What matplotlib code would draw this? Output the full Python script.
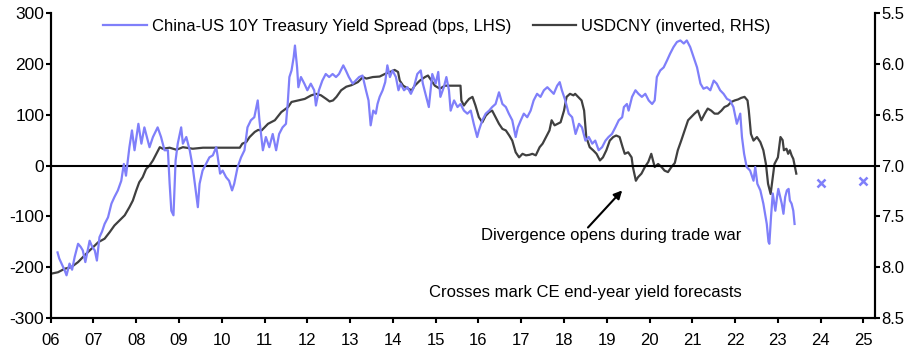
import matplotlib
matplotlib.use("Agg")
import matplotlib.pyplot as plt

plt.rcParams['font.family'] = ['Liberation Sans', 'DejaVu Sans']

# China-US 10Y yield spread (bps), decimal-year dates
spread_t = [2006.16, 2006.20, 2006.33, 2006.37, 2006.44, 2006.50, 2006.56, 2006.64, 2006.70, 2006.75,
            2006.81, 2006.91, 2006.97, 2007.03, 2007.08, 2007.14, 2007.20, 2007.26, 2007.34, 2007.42,
            2007.49, 2007.57, 2007.65, 2007.71, 2007.76, 2007.84, 2007.90, 2007.96, 2008.05, 2008.12,
            2008.19, 2008.27, 2008.31, 2008.39, 2008.50, 2008.58, 2008.66, 2008.74, 2008.78, 2008.82,
            2008.87, 2008.92, 2008.97, 2009.05, 2009.09, 2009.17, 2009.25, 2009.32, 2009.40, 2009.44,
            2009.48, 2009.55, 2009.63, 2009.71, 2009.79, 2009.87, 2009.90, 2009.96, 2010.02, 2010.10,
            2010.17, 2010.24, 2010.29, 2010.37, 2010.45, 2010.53, 2010.60, 2010.68, 2010.76, 2010.84,
            2010.88, 2010.96, 2011.03, 2011.11, 2011.19, 2011.27, 2011.34, 2011.42, 2011.50, 2011.54,
            2011.58, 2011.63, 2011.68, 2011.71, 2011.76, 2011.79, 2011.85, 2011.93, 2012.00, 2012.08,
            2012.16, 2012.20, 2012.27, 2012.35, 2012.43, 2012.51, 2012.59, 2012.67, 2012.74, 2012.84,
            2012.90, 2012.97, 2013.06, 2013.13, 2013.21, 2013.29, 2013.37, 2013.43, 2013.48, 2013.54,
            2013.60, 2013.64, 2013.69, 2013.76, 2013.82, 2013.87, 2013.93, 2013.99, 2014.07, 2014.13,
            2014.18, 2014.26, 2014.34, 2014.42, 2014.49, 2014.57, 2014.65, 2014.70, 2014.76, 2014.84,
            2014.88, 2014.92, 2015.00, 2015.06, 2015.11, 2015.19, 2015.25, 2015.31, 2015.35, 2015.43,
            2015.51, 2015.58, 2015.66, 2015.74, 2015.82, 2015.89, 2015.97, 2016.01, 2016.09, 2016.17,
            2016.25, 2016.32, 2016.40, 2016.48, 2016.56, 2016.64, 2016.71, 2016.79, 2016.87, 2016.92,
            2016.99, 2017.06, 2017.14, 2017.22, 2017.29, 2017.37, 2017.45, 2017.53, 2017.61, 2017.68,
            2017.76, 2017.84, 2017.90, 2017.95, 2018.03, 2018.11, 2018.19, 2018.27, 2018.35, 2018.42,
            2018.50, 2018.58, 2018.66, 2018.73, 2018.81, 2018.89, 2018.97, 2019.04, 2019.12, 2019.20,
            2019.28, 2019.36, 2019.40, 2019.47, 2019.51, 2019.59, 2019.67, 2019.74, 2019.82, 2019.90,
            2019.98, 2020.06, 2020.12, 2020.17, 2020.25, 2020.33, 2020.41, 2020.48, 2020.56, 2020.64,
            2020.72, 2020.80, 2020.87, 2020.95, 2021.03, 2021.11, 2021.19, 2021.26, 2021.34, 2021.42,
            2021.50, 2021.57, 2021.65, 2021.73, 2021.81, 2021.88, 2021.96, 2022.04, 2022.12, 2022.16,
            2022.21, 2022.27, 2022.35, 2022.43, 2022.47, 2022.52, 2022.59, 2022.66, 2022.74, 2022.78,
            2022.80, 2022.84, 2022.88, 2022.94, 2022.98, 2023.01, 2023.09, 2023.13, 2023.17, 2023.21,
            2023.25, 2023.28, 2023.32, 2023.36, 2023.39]
spread_v = [-171, -183, -207, -216, -193, -205, -180, -154, -160, -167,
            -190, -148, -160, -167, -187, -141, -130, -115, -102, -75,
            -62, -49, -30, 3, -20, 36, 69, 30, 82, 43,
            75, 49, 36, 56, 75, 56, 30, 30, -35, -89,
            -98, 10, 43, 75, 43, 56, 30, -3, -56, -82,
            -36, -10, 3, 16, 20, 36, 20, -16, -10, -23,
            -30, -49, -36, -3, 16, 30, 75, 89, 95, 128,
            89, 30, 56, 36, 62, 30, 62, 75, 82, 121,
            174, 187, 213, 236, 193, 154, 174, 161, 148, 161,
            148, 118, 148, 167, 180, 174, 180, 174, 180, 197,
            187, 174, 161, 167, 174, 177, 148, 128, 79, 108,
            102, 121, 135, 148, 164, 197, 174, 187, 174, 148,
            161, 148, 154, 141, 154, 180, 187, 161, 141, 115,
            148, 180, 161, 184, 135, 154, 174, 148, 108, 128,
            115, 121, 108, 102, 108, 82, 56, 69, 89, 102,
            108, 115, 121, 144, 121, 115, 102, 89, 56, 75,
            89, 102, 95, 108, 128, 141, 135, 148, 154, 148,
            141, 157, 164, 148, 128, 102, 95, 62, 82, 75,
            49, 56, 43, 49, 30, 36, 49, 56, 62, 75,
            89, 95, 115, 121, 108, 135, 148, 141, 135, 141,
            128, 121, 128, 174, 187, 193, 207, 220, 233, 243,
            246, 240, 246, 233, 213, 193, 161, 151, 154, 148,
            167, 161, 148, 141, 131, 128, 115, 82, 102, 56,
            23, -3, -10, -30, -3, -36, -49, -75, -115, -150,
            -154, -100, -55, -89, -62, -46, -75, -95, -62, -49,
            -46, -69, -75, -89, -115]

# USDCNY (RHS, inverted axis)
fx_t = [2006.00, 2006.17, 2006.33, 2006.48, 2006.64, 2006.79, 2006.95, 2007.11, 2007.26, 2007.38,
        2007.49, 2007.61, 2007.73, 2007.84, 2007.92, 2008.00, 2008.07, 2008.15, 2008.23, 2008.31,
        2008.39, 2008.47, 2008.55, 2008.62, 2008.78, 2008.94, 2009.09, 2009.32, 2009.56, 2009.87,
        2010.18, 2010.42, 2010.48, 2010.57, 2010.65, 2010.77, 2010.85, 2010.93, 2011.08, 2011.24,
        2011.39, 2011.55, 2011.63, 2011.78, 2011.94, 2012.09, 2012.21, 2012.32, 2012.44, 2012.52,
        2012.60, 2012.68, 2012.79, 2012.91, 2013.03, 2013.18, 2013.30, 2013.38, 2013.53, 2013.69,
        2013.81, 2013.93, 2014.04, 2014.12, 2014.16, 2014.24, 2014.36, 2014.44, 2014.51, 2014.63,
        2014.75, 2014.82, 2014.90, 2014.98, 2015.10, 2015.21, 2015.33, 2015.48, 2015.58, 2015.60,
        2015.66, 2015.72, 2015.78, 2015.86, 2015.93, 2016.01, 2016.09, 2016.17, 2016.25, 2016.32,
        2016.40, 2016.48, 2016.56, 2016.64, 2016.72, 2016.79, 2016.87, 2016.95, 2017.03, 2017.11,
        2017.19, 2017.26, 2017.34, 2017.43, 2017.50, 2017.58, 2017.66, 2017.71, 2017.78, 2017.85,
        2017.92, 2018.00, 2018.06, 2018.14, 2018.22, 2018.26, 2018.33, 2018.41, 2018.47, 2018.52,
        2018.60, 2018.68, 2018.76, 2018.84, 2018.91, 2018.99, 2019.07, 2019.15, 2019.22, 2019.30,
        2019.37, 2019.42, 2019.50, 2019.58, 2019.61, 2019.68, 2019.73, 2019.81, 2019.89, 2019.97,
        2020.04, 2020.12, 2020.20, 2020.28, 2020.35, 2020.43, 2020.51, 2020.59, 2020.66, 2020.74,
        2020.82, 2020.90, 2020.97, 2021.05, 2021.13, 2021.21, 2021.29, 2021.36, 2021.44, 2021.52,
        2021.60, 2021.68, 2021.75, 2021.83, 2021.91, 2021.99, 2022.07, 2022.14, 2022.22, 2022.29,
        2022.32, 2022.37, 2022.43, 2022.51, 2022.59, 2022.66, 2022.72, 2022.77, 2022.83, 2022.88,
        2022.92, 2023.00, 2023.06, 2023.11, 2023.14, 2023.20, 2023.24, 2023.28, 2023.32, 2023.36,
        2023.40, 2023.43]
fx_v = [8.065, 8.05, 8.015, 8.0, 7.95, 7.885, 7.82, 7.755, 7.72, 7.655,
        7.59, 7.54, 7.49, 7.41, 7.345, 7.245, 7.165, 7.115, 7.035, 7.0,
        6.95, 6.885, 6.82, 6.835, 6.825, 6.845, 6.82, 6.835, 6.825, 6.825,
        6.825, 6.825, 6.785, 6.77, 6.72, 6.67, 6.65, 6.655, 6.59, 6.555,
        6.475, 6.425, 6.375, 6.36, 6.345, 6.31, 6.295, 6.31, 6.345, 6.37,
        6.36, 6.325, 6.26, 6.225, 6.21, 6.18, 6.13, 6.145, 6.13, 6.125,
        6.10, 6.08, 6.06, 6.08, 6.165, 6.215, 6.245, 6.26, 6.215, 6.165,
        6.13, 6.115, 6.165, 6.215, 6.245, 6.215, 6.215, 6.215, 6.215, 6.36,
        6.41, 6.375, 6.345, 6.325, 6.41, 6.525, 6.575, 6.51, 6.475, 6.46,
        6.525, 6.59, 6.64, 6.655, 6.705, 6.755, 6.87, 6.92, 6.885, 6.90,
        6.895, 6.885, 6.90, 6.82, 6.785, 6.72, 6.655, 6.555, 6.605, 6.59,
        6.575, 6.46, 6.325, 6.295, 6.31, 6.295, 6.325, 6.36, 6.46, 6.72,
        6.82, 6.85, 6.885, 6.95, 6.92, 6.85, 6.755, 6.72, 6.705, 6.72,
        6.82, 6.885, 6.87, 6.92, 7.015, 7.15, 7.115, 7.08, 7.015, 6.965,
        6.885, 7.015, 6.985, 7.015, 7.05, 7.065, 7.015, 6.975, 6.85, 6.755,
        6.655, 6.555, 6.525, 6.49, 6.46, 6.555, 6.49, 6.44, 6.46, 6.49,
        6.49, 6.46, 6.425, 6.41, 6.375, 6.36, 6.35, 6.335, 6.325, 6.36,
        6.46, 6.69, 6.755, 6.72, 6.77, 6.85, 6.985, 7.18, 7.28, 7.115,
        6.985, 6.92, 6.72, 6.75, 6.85, 6.835, 6.885, 6.85, 6.90, 6.935,
        7.015, 7.08]

# CE end-year yield spread forecasts
fc_t = [2024, 2025]
fc_v = [-35, -30]

x_ticks = list(range(2006, 2026))
x_labels = ["%02d" % (y % 100) for y in x_ticks]
left_ticks = [-300, -200, -100, 0, 100, 200, 300]
right_ticks = [5.5, 6.0, 6.5, 7.0, 7.5, 8.0, 8.5]

BLUE = "#7F7FFA"
GREY = "#404040"
FS = 12

fig = plt.figure(figsize=(9.15, 3.5), dpi=100)
ax = fig.add_axes([50.7 / 915, 1 - 318 / 350, (875 - 50.7) / 915, (318 - 13) / 350])
ax2 = ax.twinx()

ax.axhline(0, color="black", lw=1.5, zorder=1)
l1, = ax.plot(spread_t, spread_v, color=BLUE, lw=1.6, zorder=3,
              label="China-US 10Y Treasury Yield Spread (bps, LHS)")
ax.plot(fc_t, fc_v, ls="none", marker="x", ms=6, mew=1.8, color=BLUE, zorder=3)
l2, = ax2.plot(fx_t, fx_v, color=GREY, lw=1.6, zorder=4, label="USDCNY (inverted, RHS)")

ax.set_zorder(ax2.get_zorder() + 1)
ax.patch.set_visible(False)

ax.set_xlim(2006, 2025.27)
ax.set_ylim(-300, 300)
ax2.set_ylim(8.5, 5.5)

ax.set_xticks(x_ticks)
ax.set_xticklabels(x_labels)
ax.set_yticks(left_ticks)
ax.set_yticklabels([str(v) for v in left_ticks])
ax2.set_yticks(right_ticks)
ax2.set_yticklabels(["%.1f" % v for v in right_ticks])

for a in (ax, ax2):
    a.spines["top"].set_visible(False)
    for s in ("left", "right", "bottom"):
        a.spines[s].set_linewidth(1.5)
    a.tick_params(labelsize=FS, width=1.5, length=3.6, direction="out", colors="black")
ax.tick_params(axis="x", pad=7)
ax.tick_params(axis="y", pad=1, labelsize=12.5)
ax2.tick_params(axis="y", pad=1)

ax.annotate("", xy=(2019.36, -49), xytext=(2018.56, -122),
            arrowprops=dict(arrowstyle="-|>", color="black", lw=1.5, mutation_scale=12,
                            shrinkA=0, shrinkB=0), zorder=5)
ax.text(2022.15, -138, "Divergence opens during trade war", fontsize=FS,
        ha="right", va="center")
ax.text(2022.15, -249, "Crosses mark CE end-year yield forecasts", fontsize=FS,
        ha="right", va="center")

fig.legend(handles=[l1, l2], loc="center", bbox_to_anchor=(437 / 915, 1 - 26 / 350),
           ncol=2, frameon=False, fontsize=FS, handlelength=2.6, handletextpad=0.3,
           columnspacing=1.3, borderpad=0, borderaxespad=0)

fig.savefig("out.png", dpi=100)
